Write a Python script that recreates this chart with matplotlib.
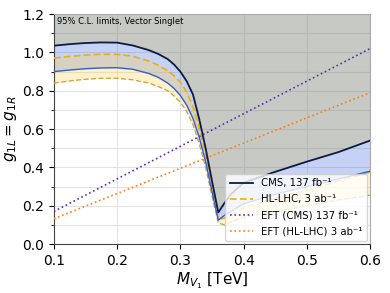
import matplotlib
matplotlib.use("Agg")
import matplotlib.pyplot as plt
from matplotlib.ticker import MultipleLocator

# ── Data ─────────────────────────────────────────────────────────────────────
mass = [0.100, 0.125, 0.150, 0.175, 0.200, 0.225, 0.250, 0.265, 0.280, 0.290,
        0.300, 0.310, 0.320, 0.330, 0.340, 0.350, 0.360, 0.370, 0.380, 0.400,
        0.450, 0.500, 0.550, 0.600]

cms_upper = [1.035, 1.043, 1.049, 1.052, 1.051, 1.036, 1.012, 0.992, 0.965,
             0.937, 0.900, 0.850, 0.780, 0.650, 0.500, 0.330, 0.165, 0.215,
             0.260, 0.320, 0.377, 0.430, 0.480, 0.540]
cms_lower = [0.900, 0.908, 0.915, 0.919, 0.920, 0.912, 0.890, 0.870, 0.840,
             0.812, 0.775, 0.725, 0.655, 0.555, 0.430, 0.275, 0.125, 0.150,
             0.170, 0.210, 0.260, 0.300, 0.340, 0.380]
hl_upper = [0.970, 0.979, 0.986, 0.990, 0.990, 0.980, 0.955, 0.933, 0.905,
            0.878, 0.845, 0.795, 0.715, 0.605, 0.470, 0.300, 0.130, 0.135,
            0.150, 0.190, 0.240, 0.280, 0.330, 0.375]
hl_lower = [0.840, 0.851, 0.860, 0.865, 0.865, 0.857, 0.840, 0.822, 0.800,
            0.773, 0.740, 0.692, 0.622, 0.522, 0.400, 0.250, 0.110, 0.100,
            0.115, 0.140, 0.170, 0.200, 0.230, 0.255]

eft_mass = [0.10, 0.60]
eft_cms = [0.170, 1.020]
eft_hl = [0.132, 0.790]

# ── Style ─────────────────────────────────────────────────────────────────────
NAVY = "#0d1b3e"
BLUE = "#2f5fd0"
GOLD = "#f0b000"
GOLD_DARK = "#c9a040"
PURPLE = "#5b2fb0"
ORANGE = "#ff7f0e"

fig = plt.figure(figsize=(3.9, 2.93), dpi=100)
ax = fig.add_axes([0.138, 0.167, 0.811, 0.785])

ax.set_xlim(0.1, 0.6)
ax.set_ylim(0.0, 1.2)

# excluded region above the observed limit
ax.fill_between(mass, cms_upper, 1.2, color="#75786f", alpha=0.4,
                linewidth=0, zorder=1)
ax.fill_between(mass, cms_lower, cms_upper, color="#4169e1", alpha=0.3,
                linewidth=0, zorder=1)
ax.fill_between(mass, hl_lower, hl_upper, color="#ffd24d", alpha=0.3,
                linewidth=0, zorder=1)

ax.plot(mass, cms_upper, color=NAVY, lw=1.3, zorder=4,
        label="CMS, 137 fb⁻¹")
ax.plot(mass, cms_lower, color=BLUE, lw=1.0, zorder=4)
ax.plot(mass, hl_upper, color=GOLD, lw=1.2, ls="--", dashes=(4, 2), zorder=3,
        label="HL-LHC, 3 ab⁻¹")
ax.plot(mass, hl_lower, color=GOLD_DARK, lw=0.9, ls="--", dashes=(4, 2),
        zorder=3)
ax.plot(eft_mass, eft_cms, color=PURPLE, lw=1.2, ls=":", zorder=3,
        label="EFT (CMS) 137 fb⁻¹")
ax.plot(eft_mass, eft_hl, color=ORANGE, lw=1.2, ls=":", zorder=3,
        label="EFT (HL-LHC) 3 ab⁻¹")

ax.text(0.105, 1.185, "95% C.L. limits, Vector Singlet", fontsize=6,
        ha="left", va="top", zorder=5)

ax.xaxis.set_major_locator(MultipleLocator(0.1))
ax.yaxis.set_major_locator(MultipleLocator(0.2))
ax.yaxis.set_minor_locator(MultipleLocator(0.1))
ax.grid(True, which="both", color="#e3e3e3", lw=0.8, zorder=0)
ax.set_axisbelow(True)
ax.tick_params(labelsize=10)

ax.set_xlabel("$M_{V_1}$ [TeV]", fontsize=11, labelpad=2)
ax.set_ylabel("$g_{1L} = g_{1R}$", fontsize=11, labelpad=2)

for s in ["left", "bottom"]:
    ax.spines[s].set_color("#444444")
for s in ["top", "right"]:
    ax.spines[s].set_color("#aaaaaa")

ax.legend(loc="lower right", fontsize=7.3, framealpha=0.8,
          handlelength=2.3, labelspacing=0.6, borderpad=0.45,
          borderaxespad=0.3)

fig.savefig("out.png", dpi=100)
